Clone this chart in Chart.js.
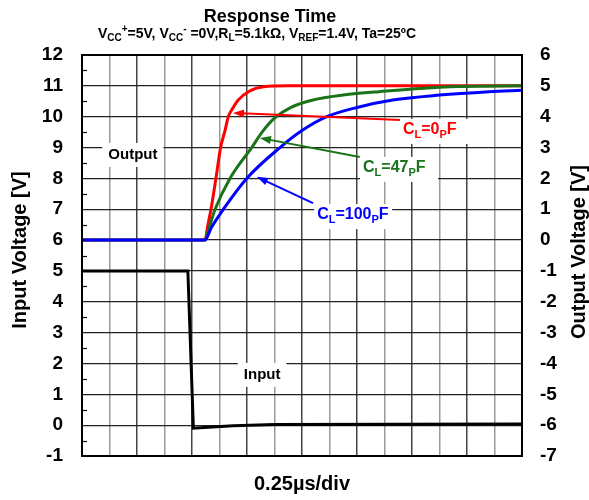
<!DOCTYPE html>
<html>
<head>
<meta charset="utf-8">
<script src="https://cdn.jsdelivr.net/npm/chart.js@4.4.1/dist/chart.umd.min.js"></script>
<style>
  body { margin: 0; background: #fff; }
  #chart { display: block; }
</style>
</head>
<body>
<canvas id="chart" width="589" height="500"></canvas>
<script>
// time axis is in scope divisions (0.25us/div), 16 divisions across
const inputT = [0, 3.85, 4.05, 4.6, 5.5, 7, 16];
const inputV = [5, 5, -0.1, -0.07, -0.02, 0.02, 0.04];

// outputs are read on the right axis (Output Voltage)
const redT = [0, 4.47, 4.58, 4.69, 4.87, 5.04, 5.2, 5.32, 5.5, 5.68, 6.05, 6.6, 7.5, 16];
const redV = [0, 0, 0.5, 1, 2, 3, 3.55, 4, 4.3, 4.54, 4.81, 4.97, 5, 5];
const greenT = [0, 4.47, 4.62, 4.84, 5.38, 6.17, 6.55, 7.0, 7.6, 8.4, 9.5, 10.8, 13.4, 16];
const greenV = [0, 0, 0.4, 1, 2, 3, 3.5, 3.95, 4.3, 4.54, 4.7, 4.81, 4.97, 5];
const blueT = [0, 4.47, 4.7, 5.14, 5.99, 7.2, 8.0, 8.9, 10, 11.3, 13, 14.8, 16];
const blueV = [0, 0, 0.4, 1, 2, 3, 3.55, 4, 4.3, 4.54, 4.7, 4.81, 4.86];

const leftRange = [-1, 12];
const rightRange = [-7, 6];

const RED = 'rgb(255,0,0)';
const GREEN = 'rgb(25,115,25)';
const BLUE = 'rgb(0,0,255)';
const FONT = '"Liberation Sans", Arial, Helvetica, sans-serif';

const pts = (t, v) => t.map((e, i) => ({x: e, y: v[i]}));

// rich text: parts = [[text, 0 normal | 1 sub | 2 sup]]
function richDraw(ctx, parts, x, y, size, color, align) {
  const small = Math.round(size * 0.68);
  let w = 0;
  parts.forEach(p => {
    ctx.font = 'bold ' + (p[1] ? small : size) + 'px ' + FONT;
    w += ctx.measureText(p[0]).width;
  });
  let cx = align === 'center' ? x - w / 2 : x;
  ctx.fillStyle = color;
  ctx.textAlign = 'left';
  ctx.textBaseline = 'middle';
  parts.forEach(p => {
    ctx.font = 'bold ' + (p[1] ? small : size) + 'px ' + FONT;
    let dy = p[1] === 1 ? size * 0.3 : p[1] === 2 ? -size * 0.35 : 0;
    ctx.fillText(p[0], cx, y + dy);
    cx += ctx.measureText(p[0]).width;
  });
  return w;
}

function arrow(ctx, x1, y1, x2, y2, color) {
  const ang = Math.atan2(y2 - y1, x2 - x1);
  const len = 11, half = 4;
  ctx.strokeStyle = color;
  ctx.fillStyle = color;
  ctx.lineWidth = 2;
  ctx.beginPath();
  ctx.moveTo(x1, y1);
  ctx.lineTo(x2 - Math.cos(ang) * len * 0.8, y2 - Math.sin(ang) * len * 0.8);
  ctx.stroke();
  ctx.beginPath();
  ctx.moveTo(x2, y2);
  ctx.lineTo(x2 - Math.cos(ang) * len - Math.sin(ang) * half, y2 - Math.sin(ang) * len + Math.cos(ang) * half);
  ctx.lineTo(x2 - Math.cos(ang) * len + Math.sin(ang) * half, y2 - Math.sin(ang) * len - Math.cos(ang) * half);
  ctx.closePath();
  ctx.fill();
}

// curve labels: [parts, x (div), y (right axis), color, arrow tail, arrow head]
const curveLabels = [
  [[['C', 0], ['L', 1], ['=0', 0], ['P', 1], ['F', 0]], 11.67, 3.57, RED, [11.56, 3.89], [5.49, 4.12]],
  [[['C', 0], ['L', 1], ['=47', 0], ['P', 1], ['F', 0]], 10.22, 2.34, GREEN, [10.1, 2.69], [6.47, 3.31]],
  [[['C', 0], ['L', 1], ['=100', 0], ['P', 1], ['F', 0]], 8.55, 0.81, BLUE, [8.4, 1.2], [6.36, 2.05]]
];
// boxed plain labels: [text, x (div), y (left axis)]
const boxLabels = [['Output', 1.85, 8.76], ['Input', 6.55, 1.63]];

const decor = {
  id: 'decor',
  afterDatasetsDraw(chart) {
    const {ctx, chartArea: a, scales: {x, y, y2}} = chart;
    ctx.save();
    // minor ticks on the left axis
    ctx.strokeStyle = '#000';
    ctx.lineWidth = 1.2;
    for (let v = leftRange[0] + 0.5; v < leftRange[1]; v += 1) {
      const py = Math.round(y.getPixelForValue(v)) + 0.5;
      ctx.beginPath();
      ctx.moveTo(a.left, py);
      ctx.lineTo(a.left + 5, py);
      ctx.stroke();
    }
    // frame
    ctx.lineWidth = 2;
    ctx.strokeRect(a.left, a.top, a.right - a.left, a.bottom - a.top);

    // boxed labels
    boxLabels.forEach(l => {
      const px = x.getPixelForValue(l[1]), py = y.getPixelForValue(l[2]);
      ctx.font = 'bold 15px ' + FONT;
      const w = ctx.measureText(l[0]).width;
      ctx.fillStyle = '#fff';
      ctx.fillRect(px - w / 2 - 6, py - 12, w + 12, 24);
      richDraw(ctx, [[l[0], 0]], px, py, 15, '#000', 'center');
    });

    // curve labels and arrows
    curveLabels.forEach(l => {
      const px = x.getPixelForValue(l[1]), py = y2.getPixelForValue(l[2]);
      ctx.fillStyle = '#fff';
      ctx.fillRect(px - 3, py - 11, 78, 25);
      arrow(ctx, x.getPixelForValue(l[4][0]), y2.getPixelForValue(l[4][1]),
        x.getPixelForValue(l[5][0]), y2.getPixelForValue(l[5][1]), l[3]);
      richDraw(ctx, l[0], px, py, 16, l[3], 'left');
    });
    ctx.restore();
  },
  afterDraw(chart) {
    const {ctx} = chart;
    ctx.save();
    richDraw(ctx, [['Response Time', 0]], 270, 17, 18, '#000', 'center');
    richDraw(ctx, [['V', 0], ['CC', 1], ['+', 2], ['=5V, V', 0], ['CC', 1], ['-', 2],
      [' =0V,R', 0], ['L', 1], ['=5.1kΩ, V', 0], ['REF', 1], ['=1.4V, Ta=25ºC', 0]],
      257, 34, 14, '#000', 'center');
    richDraw(ctx, [['0.25µs/div', 0]], 302, 484, 20, '#000', 'center');
    ctx.translate(20, 250);
    ctx.rotate(-Math.PI / 2);
    richDraw(ctx, [['Input Voltage [V]', 0]], 0, 0, 20, '#000', 'center');
    ctx.restore();
    ctx.save();
    ctx.translate(579, 252);
    ctx.rotate(-Math.PI / 2);
    richDraw(ctx, [['Output Voltage [V]', 0]], 0, 0, 20, '#000', 'center');
    ctx.restore();
  }
};

const lineDs = (label, data, color, axis, order, mono) => ({
  label: label,
  data: data,
  borderColor: color,
  backgroundColor: color,
  borderWidth: 3,
  pointRadius: 0,
  fill: false,
  yAxisID: axis,
  order: order,
  cubicInterpolationMode: mono ? 'monotone' : 'default',
  tension: 0
});

new Chart(document.getElementById('chart'), {
  type: 'line',
  data: {
    datasets: [
      lineDs('Input', pts(inputT, inputV), '#000', 'y', 3, false),
      lineDs('CL=0pF', pts(redT, redV), RED, 'y2', 2, true),
      lineDs('CL=47pF', pts(greenT, greenV), GREEN, 'y2', 1, true),
      lineDs('CL=100pF', pts(blueT, blueV), BLUE, 'y2', 0, true)
    ]
  },
  options: {
    responsive: false,
    animation: false,
    layout: {padding: {top: 55, left: 0, right: 0, bottom: 0}},
    plugins: {legend: {display: false}, tooltip: {enabled: false}},
    scales: {
      x: {
        type: 'linear',
        min: 0,
        max: 16,
        ticks: {display: false, stepSize: 1},
        grid: {
          color: c => (c.tick.value % 2 ? '#9a9a9a' : '#444'),
          lineWidth: 1.5,
          drawTicks: false
        },
        border: {display: false},
        afterFit: s => { s.height = 44; }
      },
      y: {
        position: 'left',
        min: leftRange[0],
        max: leftRange[1],
        ticks: {stepSize: 1, padding: 19, color: '#000', font: {family: FONT, size: 19, weight: 'bold'}},
        grid: {color: '#222', lineWidth: 1.2, drawTicks: false},
        border: {display: false},
        afterFit: s => { s.width = 82; }
      },
      y2: {
        position: 'right',
        min: rightRange[0],
        max: rightRange[1],
        ticks: {stepSize: 1, padding: 18, color: '#000', font: {family: FONT, size: 19, weight: 'bold'}},
        grid: {display: false, drawTicks: false},
        border: {display: false},
        afterFit: s => { s.width = 67; }
      }
    }
  },
  plugins: [decor]
});
</script>
</body>
</html>
